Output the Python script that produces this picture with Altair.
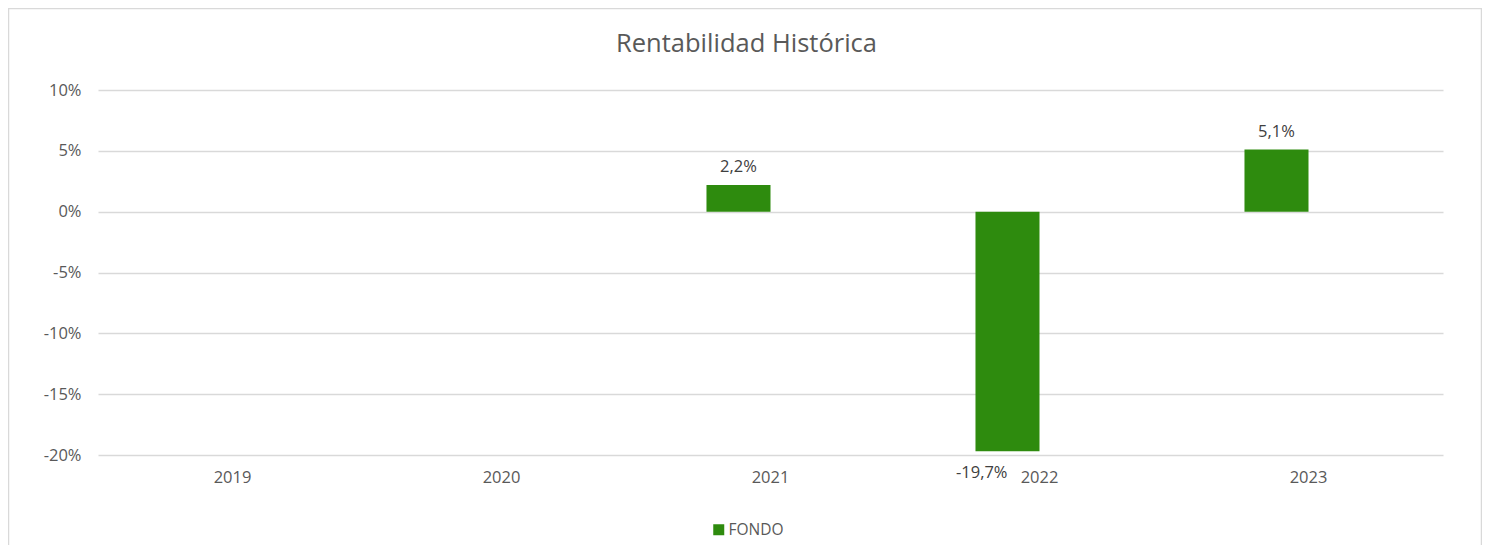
import altair as alt
import pandas as pd

years = ["2019", "2020", "2021", "2022", "2023"]
fondo = [None, None, 0.022, -0.197, 0.051]
series_names = ["FONDO", "REF"]
y_ticks = [-0.20, -0.15, -0.10, -0.05, 0.0, 0.05, 0.10]

GREEN = "#2E8B0E"
FONT = "Open Sans"
GREY = "#595959"
LAB = 16.5

df = pd.DataFrame({"anio": years, "v": fondo, "serie": ["FONDO"] * len(years)})
df = df.dropna()

x_enc = alt.X(
    "anio:N",
    scale=alt.Scale(domain=years, paddingInner=0.524, paddingOuter=0.262),
    axis=alt.Axis(title=None, labelAngle=0, ticks=False, domain=False, grid=False,
                  labelPadding=14, labelFontSize=LAB, labelColor=GREY, labelFont=FONT),
)
xo_enc = alt.XOffset("serie:N", scale=alt.Scale(domain=series_names, paddingInner=0, paddingOuter=0))
y_enc = alt.Y(
    "v:Q",
    scale=alt.Scale(domain=[-0.2, 0.1], nice=False, zero=False),
    axis=alt.Axis(title=None, values=y_ticks, format=".0%", ticks=False, domain=False,
                  grid=True, gridColor="#d9d9d9", gridWidth=1.3, labelPadding=17,
                  labelFontSize=LAB, labelColor=GREY, labelFont=FONT),
)

base = alt.Chart(df)

bars = base.mark_bar(strokeWidth=0).encode(
    x=x_enc,
    xOffset=xo_enc,
    y=y_enc,
    color=alt.Color(
        "serie:N",
        scale=alt.Scale(domain=["FONDO"], range=[GREEN]),
        legend=alt.Legend(title=None, orient="none", legendX=613, legendY=432,
                          direction="horizontal", symbolType="square", symbolSize=121,
                          symbolStrokeWidth=0, labelFontSize=15.5, labelColor=GREY,
                          labelFont=FONT, labelOffset=2),
    ),
)

pos_labels = base.transform_filter("datum.v > 0").mark_text(
    baseline="bottom", dy=-10, fontSize=LAB, color="#404040", font=FONT
).encode(x=x_enc, xOffset=xo_enc, y=y_enc, text=alt.Text("v:Q", format=".1%"))

neg_labels = base.transform_filter("datum.v < 0").mark_text(
    baseline="top", align="right", dy=14, fontSize=LAB, color="#404040", font=FONT
).encode(x=x_enc, xOffset=xo_enc, y=y_enc, text=alt.Text("v:Q", format=".1%"))

border = alt.Chart(pd.DataFrame({"k": [0]})).mark_rect(
    filled=False, stroke="#d9d9d9", strokeWidth=1.5
).encode(x=alt.value(-89.5), x2=alt.value(1383.5), y=alt.value(-81.5), y2=alt.value(520))

chart = alt.layer(border, bars, pos_labels, neg_labels).properties(
    width=1345,
    height=365,
    title=alt.TitleParams("Rentabilidad Histórica", fontSize=25.5, font=FONT,
                          fontWeight="normal", color=GREY, anchor="middle",
                          baseline="alphabetic", offset=-70, dx=-24),
    autosize=alt.AutoSizeParams(type="none"),
    padding={"left": 90, "top": 82, "right": 39, "bottom": 90},
).configure(
    locale=alt.Locale(number={"decimal": ",", "thousands": ".", "grouping": [3],
                              "currency": ["", " €"], "minus": "-"})
).configure_view(stroke=None)

chart.save("out.html", embed_options={"renderer": "svg", "actions": False})
